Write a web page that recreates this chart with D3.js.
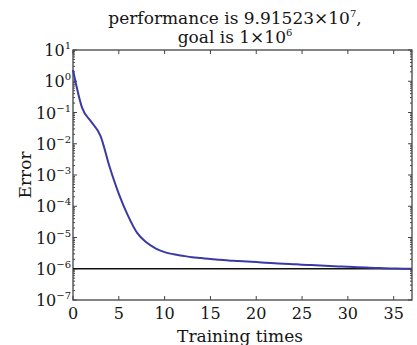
<!DOCTYPE html>
<html>
<head>
<meta charset="utf-8">
<script src="https://cdn.jsdelivr.net/npm/d3@7"></script>
<style>
  html, body { margin: 0; padding: 0; background: #fff; }
  svg { display: block; font-family: "DejaVu Serif", "Liberation Serif", serif; }
</style>
</head>
<body>
<svg id="chart" width="417" height="345"></svg>
<script>
// training record
const epochs = d3.range(0, 38);
const errors = [
  2.3, 0.14, 0.05, 0.018, 0.0018, 2.5e-4, 5e-5, 1.4e-5, 7e-6, 4.5e-6,
  3.4e-6, 2.9e-6, 2.6e-6, 2.35e-6, 2.2e-6, 2.05e-6, 1.95e-6, 1.85e-6, 1.78e-6, 1.7e-6,
  1.63e-6, 1.57e-6, 1.51e-6, 1.45e-6, 1.4e-6, 1.35e-6, 1.31e-6, 1.27e-6, 1.23e-6, 1.19e-6,
  1.15e-6, 1.12e-6, 1.09e-6, 1.06e-6, 1.04e-6, 1.02e-6, 1.0e-6, 9.91523e-7
];
const goal = 1e-6;
const xTicks = [0, 5, 10, 15, 20, 25, 30, 35];
const yExponents = [1, 0, -1, -2, -3, -4, -5, -6, -7];

const svg = d3.select("#chart");
const m = { left: 73, right: 412, top: 50, bottom: 300 };

const x = d3.scaleLinear().domain([0, 37]).range([m.left, m.right]);
const y = d3.scaleLog().domain([1e-7, 10]).range([m.bottom, m.top]);

const axisColor = "#444";
const textColor = "#151515";

// box
svg.append("rect")
  .attr("x", m.left).attr("y", m.top)
  .attr("width", m.right - m.left).attr("height", m.bottom - m.top)
  .attr("fill", "none").attr("stroke", axisColor).attr("stroke-width", 1.3);

// x ticks, bottom and top, pointing inward
const tk = svg.append("g").attr("stroke", axisColor).attr("stroke-width", 1);
xTicks.forEach(t => {
  tk.append("line").attr("x1", x(t)).attr("x2", x(t)).attr("y1", m.bottom).attr("y2", m.bottom - 4);
  tk.append("line").attr("x1", x(t)).attr("x2", x(t)).attr("y1", m.top).attr("y2", m.top + 4);
});

// y ticks, major and minor, both sides
yExponents.forEach(e => {
  const yy = y(Math.pow(10, e));
  tk.append("line").attr("x1", m.left).attr("x2", m.left + 4).attr("y1", yy).attr("y2", yy);
  tk.append("line").attr("x1", m.right).attr("x2", m.right - 4).attr("y1", yy).attr("y2", yy);
  if (e > -7) {
    for (let k = 2; k <= 9; k++) {
      const ym = y(k * Math.pow(10, e - 1));
      tk.append("line").attr("x1", m.left).attr("x2", m.left + 2).attr("y1", ym).attr("y2", ym);
      tk.append("line").attr("x1", m.right).attr("x2", m.right - 2).attr("y1", ym).attr("y2", ym);
    }
  }
});

// x tick labels
svg.append("g").selectAll("text")
  .data(xTicks).enter().append("text")
  .attr("x", d => x(d)).attr("y", 319)
  .attr("text-anchor", "middle")
  .attr("font-size", 16)
  .attr("fill", textColor)
  .text(d => d);

// y tick labels 10^e
const yl = svg.append("g").selectAll("text")
  .data(yExponents).enter().append("text")
  .attr("x", 71).attr("y", d => y(Math.pow(10, d)) + 6)
  .attr("text-anchor", "end")
  .attr("fill", textColor);
yl.append("tspan").attr("font-size", 16).text("10");
yl.append("tspan").attr("font-size", 10).attr("dy", -7)
  .text(d => d < 0 ? "\u2212" + (-d) : d);

// goal line
svg.append("line")
  .attr("x1", m.left).attr("x2", m.right)
  .attr("y1", y(goal)).attr("y2", y(goal))
  .attr("stroke", "#111").attr("stroke-width", 1.5);

// error curve
const line = d3.line()
  .curve(d3.curveMonotoneX)
  .x((d, i) => x(epochs[i]))
  .y(d => y(d));
svg.append("path")
  .datum(errors)
  .attr("d", line)
  .attr("fill", "none")
  .attr("stroke", "#3a3aa2")
  .attr("stroke-width", 2);

// title
const t1 = svg.append("text").attr("x", 235).attr("y", 24)
  .attr("text-anchor", "middle").attr("font-size", 17).attr("fill", textColor);
t1.append("tspan").text("performance is 9.91523\u00d710");
t1.append("tspan").attr("font-size", 10).attr("dy", -7).text("7");
t1.append("tspan").attr("dy", 7).text(",");

const t2 = svg.append("text").attr("x", 235).attr("y", 43)
  .attr("text-anchor", "middle").attr("font-size", 17).attr("fill", textColor);
t2.append("tspan").text("goal is 1\u00d710");
t2.append("tspan").attr("font-size", 10).attr("dy", -7).text("6");

// axis labels
svg.append("text")
  .attr("x", 240).attr("y", 342)
  .attr("text-anchor", "middle").attr("font-size", 17).attr("fill", textColor)
  .text("Training times");

svg.append("text")
  .attr("transform", "translate(31,175) rotate(-90)")
  .attr("text-anchor", "middle").attr("font-size", 17).attr("fill", textColor)
  .text("Error");
</script>
</body>
</html>
